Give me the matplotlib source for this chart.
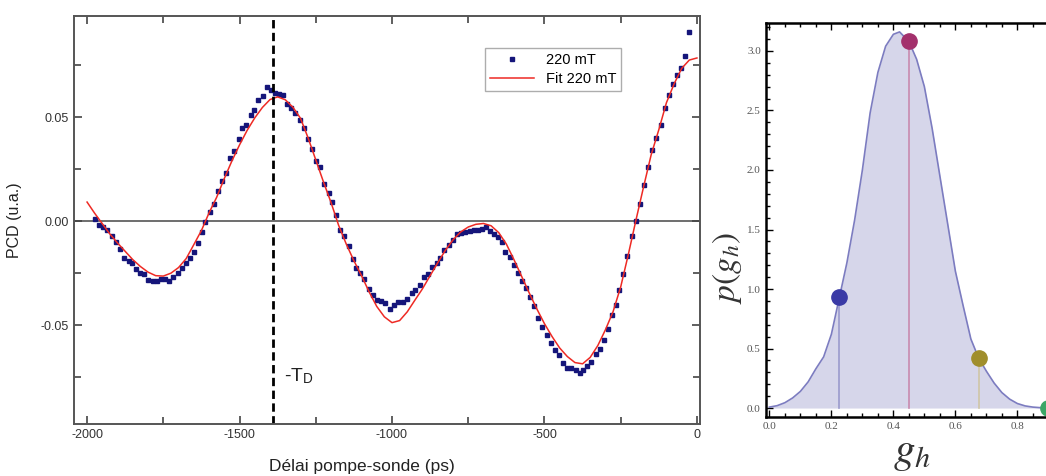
import matplotlib
matplotlib.use('Agg')
import matplotlib.pyplot as plt
from matplotlib.ticker import MultipleLocator, FormatStrFormatter

plt.rcParams['font.family'] = ['Liberation Sans', 'DejaVu Sans']
plt.rcParams['mathtext.fontset'] = 'stix'
plt.rcParams['axes.unicode_minus'] = False

# --- left panel: pump-probe delay scan at 220 mT ---
delay = [-1973, -1960, -1948, -1936, -1919, -1906, -1892, -1879, -1864, -1851,
         -1839, -1825, -1812, -1799, -1784, -1770, -1757, -1745, -1730, -1717,
         -1703, -1689, -1675, -1662, -1649, -1637, -1624, -1612, -1598, -1585,
         -1572, -1558, -1544, -1531, -1518, -1503, -1491, -1478, -1464, -1452,
         -1438, -1423, -1410, -1397, -1384, -1371, -1356, -1344, -1331, -1317,
         -1303, -1290, -1277, -1262, -1249, -1235, -1222, -1208, -1196, -1183,
         -1169, -1156, -1142, -1129, -1117, -1104, -1091, -1076, -1062, -1049,
         -1036, -1022, -1005, -994, -980, -964, -950, -936, -923, -909,
         -896, -883, -868, -854, -841, -828, -814, -800, -786, -773,
         -759, -745, -732, -719, -704, -693, -680, -667, -653, -639,
         -628, -614, -601, -587, -573, -560, -546, -535, -521, -507,
         -493, -480, -467, -453, -438, -425, -412, -398, -385, -373,
         -360, -347, -332, -319, -305, -292, -277, -266, -255, -241,
         -228, -212, -199, -187, -174, -161, -146, -133, -119, -106,
         -92, -78, -64, -51, -39, -26]
pcd = [0.0010, -0.0020, -0.0030, -0.0040, -0.0070, -0.0100, -0.0136, -0.0175, -0.0190, -0.0203,
       -0.0228, -0.0250, -0.0255, -0.0284, -0.0286, -0.0290, -0.0280, -0.0280, -0.0288, -0.0270,
       -0.0250, -0.0223, -0.0200, -0.0175, -0.0147, -0.0104, -0.0054, -0.0006, 0.0042, 0.0081,
       0.0143, 0.0192, 0.0232, 0.0304, 0.0338, 0.0393, 0.0447, 0.0462, 0.0510, 0.0537,
       0.0582, 0.0601, 0.0646, 0.0633, 0.0617, 0.0611, 0.0606, 0.0562, 0.0545, 0.0521,
       0.0489, 0.0450, 0.0397, 0.0349, 0.0290, 0.0261, 0.0181, 0.0136, 0.0090, 0.0029,
       -0.0040, -0.0072, -0.0120, -0.0180, -0.0223, -0.0250, -0.0280, -0.0328, -0.0356, -0.0380,
       -0.0383, -0.0393, -0.0420, -0.0404, -0.0388, -0.0389, -0.0375, -0.0343, -0.0332, -0.0305,
       -0.0268, -0.0255, -0.0220, -0.0202, -0.0175, -0.0140, -0.0115, -0.0090, -0.0064, -0.0056,
       -0.0050, -0.0047, -0.0040, -0.0040, -0.0037, -0.0027, -0.0047, -0.0060, -0.0076, -0.0098,
       -0.0147, -0.0171, -0.0210, -0.0248, -0.0290, -0.0323, -0.0367, -0.0409, -0.0468, -0.0511,
       -0.0548, -0.0585, -0.0620, -0.0644, -0.0681, -0.0704, -0.0708, -0.0716, -0.0729, -0.0716,
       -0.0697, -0.0676, -0.0639, -0.0617, -0.0572, -0.0520, -0.0452, -0.0404, -0.0332, -0.0252,
       -0.0168, -0.0072, 0.0000, 0.0082, 0.0173, 0.0261, 0.0340, 0.0402, 0.0462, 0.0542,
       0.0606, 0.0659, 0.0702, 0.0739, 0.0793, 0.0910]

fit_delay = list(range(-2000, 1, 25))
fit_pcd = [0.0092, 0.0038, -0.0012, -0.0062, -0.0105, -0.0145, -0.0185, -0.0218, -0.0245, -0.0262,
           -0.0264, -0.0250, -0.0223, -0.0180, -0.0113, -0.0045, 0.0040, 0.0115, 0.0205, 0.0290,
           0.0367, 0.0437, 0.0497, 0.0547, 0.0585, 0.0598, 0.0584, 0.0548, 0.0495, 0.0400,
           0.0295, 0.0190, 0.0090, -0.0020, -0.0110, -0.0190, -0.0262, -0.0340, -0.0410, -0.0460,
           -0.0488, -0.0478, -0.0436, -0.0380, -0.0325, -0.0262, -0.0200, -0.0140, -0.0090, -0.0052,
           -0.0028, -0.0015, -0.0011, -0.0022, -0.0055, -0.0110, -0.0185, -0.0265, -0.0345, -0.0422,
           -0.0493, -0.0555, -0.0610, -0.0651, -0.0680, -0.0686, -0.0655, -0.0598, -0.0522, -0.0435,
           -0.0316, -0.0160, 0.0005, 0.0165, 0.0320, 0.0440, 0.0570, 0.0660, 0.0735, 0.0775,
           0.0785]

t_d = -1390

# --- right panel: distribution p(g_h) ---
g = [0.0, 0.025, 0.05, 0.075, 0.1, 0.125, 0.15, 0.175, 0.2, 0.225,
     0.25, 0.275, 0.3, 0.325, 0.35, 0.375, 0.4, 0.42, 0.45, 0.475,
     0.5, 0.525, 0.55, 0.575, 0.6, 0.625, 0.65, 0.675, 0.7, 0.725,
     0.75, 0.775, 0.8, 0.825, 0.85, 0.875, 0.9, 0.95, 1.0]
p = [0.008, 0.02, 0.045, 0.085, 0.14, 0.22, 0.33, 0.43, 0.62, 0.92,
     1.22, 1.58, 2.00, 2.48, 2.82, 3.04, 3.14, 3.16, 3.08, 2.93,
     2.70, 2.35, 1.95, 1.55, 1.15, 0.86, 0.58, 0.42, 0.31, 0.21,
     0.13, 0.075, 0.038, 0.018, 0.008, 0.003, 0.001, 0.0, 0.0]
pts_g = [0.225, 0.45, 0.675, 0.9]
pts_p = [0.93, 3.08, 0.42, 0.0]
pts_col = ['#3a3aa6', '#a3306c', '#a08e2c', '#3aa666']
stem_col = ['#9a9acc', '#c88aae', '#cfc6a6', '#9fd0b0']

fig = plt.figure(figsize=(10.46, 4.76), dpi=100)

ax = fig.add_axes([0.0707, 0.109, 0.5985, 0.857])
ax.plot(delay, pcd, 's', color='#15157a', ms=3.2, mec='#15157a', label='220 mT')
ax.plot(fit_delay, fit_pcd, '-', color='#ee2a24', lw=1.1, label='Fit 220 mT')
ax.axhline(0, color='#555555', lw=1.2, zorder=0)
ax.axvline(t_d, color='black', lw=2, dashes=(3, 1.6))
ax.text(t_d + 35, -0.077, '-T$_\\mathregular{D}$', fontsize=14, color='#222222')

ax.set_xlim(-2043, 10)
ax.set_ylim(-0.0976, 0.0986)
ax.xaxis.set_major_locator(MultipleLocator(500))
ax.xaxis.set_minor_locator(MultipleLocator(250))
ax.yaxis.set_major_locator(MultipleLocator(0.05))
ax.yaxis.set_minor_locator(MultipleLocator(0.025))
ax.yaxis.set_major_formatter(FormatStrFormatter('%.2f'))
ax.tick_params(which='both', direction='in', top=True, right=True,
               colors='#444444', labelcolor='#333333', labelsize=9, width=1.2)
ax.tick_params(which='major', length=6)
ax.tick_params(which='minor', length=5)
for s in ax.spines.values():
    s.set_color('#555555')
    s.set_linewidth(1.4)
ax.set_xlabel('Délai pompe-sonde (ps)', fontsize=12.5, color='#222222')
ax.set_ylabel('PCD (u.a.)', fontsize=11.5, color='#222222')
ax.xaxis.set_label_coords(0.46, -0.085)
ax.yaxis.set_label_coords(-0.083, 0.5)
leg = ax.legend(loc='upper left', bbox_to_anchor=(0.657, 0.923), fontsize=10.5,
                frameon=True, fancybox=False, edgecolor='#999999',
                handlelength=3.0, borderpad=0.35, labelspacing=0.35, borderaxespad=0)
leg.get_frame().set_linewidth(1.0)

# right panel, cut off by the figure edge as in the source
ax2 = fig.add_axes([0.732, 0.124, 0.2999, 0.8277])
ax2.fill_between(g, 0, p, color='#d6d6ea', lw=0)
ax2.plot(g, p, color='#7c7cc0', lw=1.2)
for gx, py, c, sc in zip(pts_g, pts_p, pts_col, stem_col):
    ax2.plot([gx, gx], [0, py], color=sc, lw=1.2)
    ax2.plot(gx, py, 'o', color=c, ms=11, mec=c)
ax2.set_xlim(-0.012, 1.0)
ax2.set_ylim(-0.075, 3.235)
ax2.set_xticks([0.0, 0.2, 0.4, 0.6, 0.8])
ax2.xaxis.set_minor_locator(MultipleLocator(0.05))
ax2.yaxis.set_major_locator(MultipleLocator(0.5))
ax2.yaxis.set_minor_locator(MultipleLocator(0.1))
ax2.xaxis.set_major_formatter(FormatStrFormatter('%.1f'))
ax2.yaxis.set_major_formatter(FormatStrFormatter('%.1f'))
ax2.tick_params(which='both', direction='in', top=True, right=False,
                colors='black', labelcolor='#555555', labelsize=8, width=1.0)
ax2.tick_params(which='major', length=5)
ax2.tick_params(which='minor', length=3)
for lab in ax2.get_xticklabels() + ax2.get_yticklabels():
    lab.set_family(['Liberation Serif', 'DejaVu Serif'])
for s in ax2.spines.values():
    s.set_color('black')
    s.set_linewidth(1.8)
ax2.set_xlabel('$g_h$', fontsize=31, color='#333333')
ax2.set_ylabel('$p(g_h)$', fontsize=24, color='#333333')
ax2.xaxis.set_label_coords(0.466, -0.04)
ax2.yaxis.set_label_coords(-0.07, 0.378)

fig.savefig('out.png', dpi=100, facecolor='white')
